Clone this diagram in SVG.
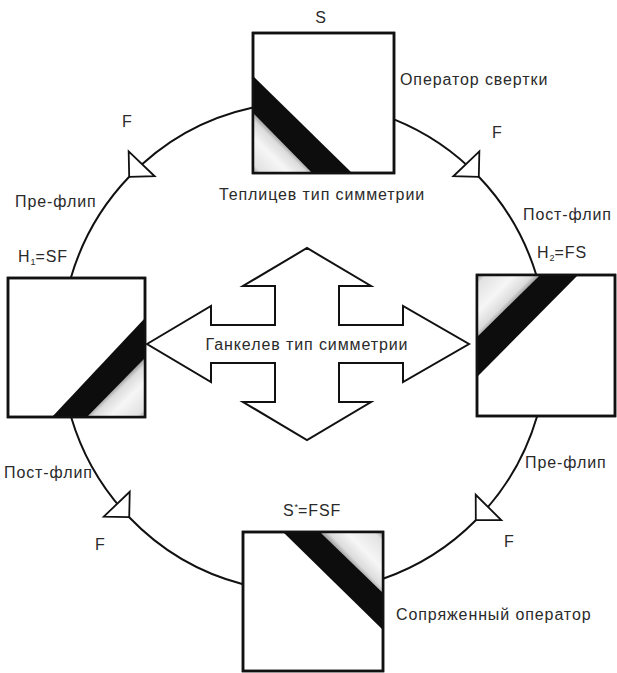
<svg xmlns="http://www.w3.org/2000/svg" width="617" height="673" viewBox="0 0 617 673">
<style>
text{font-family:"Liberation Sans",Arial,sans-serif;font-size:16px;fill:#2a2a2a;letter-spacing:0.9px}
.box{fill:#fff;stroke:#111;stroke-width:2.5}
.band{fill:#0a0a0a}
.arc{fill:none;stroke:#111;stroke-width:2}
.big{fill:#fff;stroke:#111;stroke-width:2;stroke-linejoin:miter}
.sub{font-size:9px;letter-spacing:0}
</style>
<defs>
<marker id="tri" markerUnits="userSpaceOnUse" orient="auto" overflow="visible" refX="0" refY="0" markerWidth="40" markerHeight="40" viewBox="-20 -20 40 40">
<path d="M0,0 L-18,-18 L-18,18 Z" fill="#fff" stroke="#111" stroke-width="1.8"/>
</marker>
<linearGradient id="gS" gradientUnits="userSpaceOnUse" x1="253" y1="173" x2="282.5" y2="143">
<stop offset="0" stop-color="#999"/><stop offset="0.15" stop-color="#e2e2e2"/><stop offset="0.6" stop-color="#f6f6f6"/><stop offset="0.9" stop-color="#dcdcdc"/><stop offset="1" stop-color="#aaa"/>
</linearGradient>
<linearGradient id="gH1" gradientUnits="userSpaceOnUse" x1="145" y1="417" x2="116" y2="387.5">
<stop offset="0" stop-color="#999"/><stop offset="0.15" stop-color="#e2e2e2"/><stop offset="0.6" stop-color="#f6f6f6"/><stop offset="0.9" stop-color="#dcdcdc"/><stop offset="1" stop-color="#aaa"/>
</linearGradient>
<linearGradient id="gH2" gradientUnits="userSpaceOnUse" x1="477" y1="275" x2="508.5" y2="306">
<stop offset="0" stop-color="#999"/><stop offset="0.15" stop-color="#e2e2e2"/><stop offset="0.6" stop-color="#f6f6f6"/><stop offset="0.9" stop-color="#dcdcdc"/><stop offset="1" stop-color="#aaa"/>
</linearGradient>
<linearGradient id="gSs" gradientUnits="userSpaceOnUse" x1="383" y1="532" x2="351.5" y2="562.5">
<stop offset="0" stop-color="#999"/><stop offset="0.15" stop-color="#e2e2e2"/><stop offset="0.6" stop-color="#f6f6f6"/><stop offset="0.9" stop-color="#dcdcdc"/><stop offset="1" stop-color="#aaa"/>
</linearGradient>
<filter id="soft" x="-5%" y="-5%" width="110%" height="110%"><feGaussianBlur stdDeviation="0.6"/></filter>
</defs>

<g id="connectors">
<g id="conn-S-H1">
<path class="arc" d="M253,107.5 A243,245 0 0 0 129.2,176.8" marker-end="url(#tri)"/>
<path class="arc" d="M129.2,176.8 A243,245 0 0 0 70.8,278"/>
<text x="122" y="127">F</text>
<text x="15" y="207">Пре-флип</text>
</g>
<g id="conn-S-H2">
<path class="arc" d="M394,119.4 A243,245 0 0 1 478.8,176.8" marker-end="url(#tri)"/>
<path class="arc" d="M478.8,176.8 A243,245 0 0 1 536.3,275"/>
<text x="492" y="138">F</text>
<text x="523" y="220">Пост-флип</text>
</g>
<g id="conn-H2-Sstar">
<path class="arc" d="M537.2,416 A243,245 0 0 1 475.8,520.2" marker-end="url(#tri)"/>
<path class="arc" d="M475.8,520.2 A243,245 0 0 1 383,578.7"/>
<text x="504" y="547">F</text>
<text x="525" y="468">Пре-флип</text>
</g>
<g id="conn-H1-Sstar">
<path class="arc" d="M71.1,417 A243,245 0 0 0 129.2,517.2" marker-end="url(#tri)"/>
<path class="arc" d="M129.2,517.2 A243,245 0 0 0 243,584.2"/>
<text x="95" y="550">F</text>
<text x="4" y="478">Пост-флип</text>
</g>
</g>

<g id="node-S">
<rect class="box" x="253" y="33" width="141" height="140"/>
<g filter="url(#soft)">
<polygon fill="url(#gS)" points="253,113 312,173 253,173"/>
<polygon class="band" points="253,76 352,173 312,173 253,113"/>
</g>
<rect x="253" y="33" width="141" height="140" fill="none" stroke="#111" stroke-width="2.5"/>
<text x="321" y="23" text-anchor="middle">S</text>
<text x="400" y="85">Оператор свертки</text>
<text x="322" y="200" text-anchor="middle">Теплицев тип симметрии</text>
</g>

<g id="node-H1">
<rect class="box" x="8" y="278" width="137" height="139"/>
<g filter="url(#soft)">
<polygon fill="url(#gH1)" points="87,417 145,358 145,417"/>
<polygon class="band" points="52,417 145,318 145,358 87,417"/>
</g>
<rect x="8" y="278" width="137" height="139" fill="none" stroke="#111" stroke-width="2.5"/>
<text x="18" y="262">H<tspan class="sub" dy="3">1</tspan><tspan dy="-3">=SF</tspan></text>
</g>

<g id="node-H2">
<rect class="box" x="477" y="275" width="138" height="141"/>
<g filter="url(#soft)">
<polygon fill="url(#gH2)" points="477,275 540,275 477,337"/>
<polygon class="band" points="540,275 578,275 477,377 477,337"/>
</g>
<rect x="477" y="275" width="138" height="141" fill="none" stroke="#111" stroke-width="2.5"/>
<text x="537" y="258">H<tspan class="sub" dy="3">2</tspan><tspan dy="-3">=FS</tspan></text>
</g>

<g id="node-Sstar">
<rect class="box" x="243" y="532" width="140" height="139"/>
<g filter="url(#soft)">
<polygon fill="url(#gSs)" points="320,532 383,532 383,593"/>
<polygon class="band" points="283,532 320,532 383,593 383,630"/>
</g>
<rect x="243" y="532" width="140" height="139" fill="none" stroke="#111" stroke-width="2.5"/>
<text x="283" y="516">S<tspan class="sub" dy="-6">*</tspan><tspan dy="6">=FSF</tspan></text>
<text x="396" y="620">Сопряженный оператор</text>
</g>

<g id="node-hankel">
<polygon class="big" points="147,344 211,306 211,325 275,325 275,286 243,286 307,248 371,286 339,286 339,325 403,325 403,306 469,344 403,382 403,363 339,363 339,402 371,402 307,440 243,402 275,402 275,363 211,363 211,382"/>
<text x="307" y="350" text-anchor="middle">Ганкелев тип симметрии</text>
</g>
</svg>
